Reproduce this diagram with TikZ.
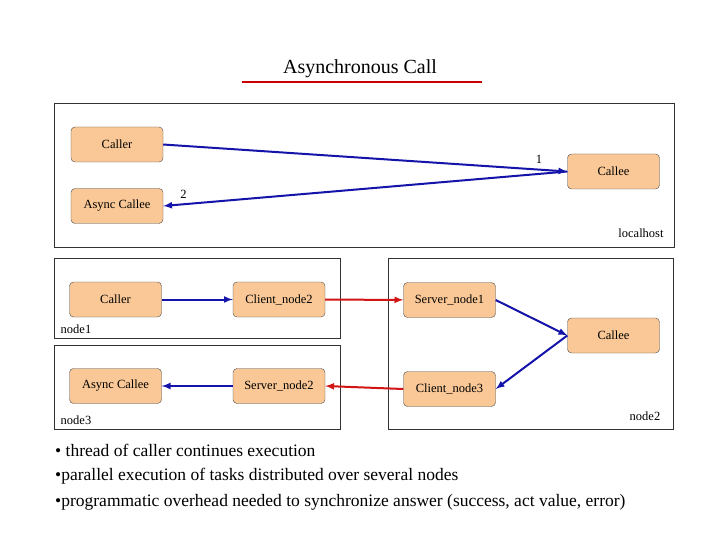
\documentclass[tikz,border=0pt]{standalone}
\usepackage{fontspec}
\setmainfont{Liberation Serif}
\begin{document}
\begin{tikzpicture}[x=1pt,y=-1pt,
  box/.style={draw=black!80, line width=0.6pt, fill=white},
  proc/.style={draw=black!70, rounded corners=4pt, fill={rgb,255:red,250;green,200;blue,150}, minimum width=92pt, minimum height=35pt, inner sep=0pt, font=\fontsize{12.5}{14}\selectfont},
  bl/.style={draw={rgb,255:red,20;green,20;blue,170}, line width=2pt, -latex},
  rd/.style={draw={rgb,255:red,210;green,20;blue,20}, line width=2pt, -latex},
  lbl/.style={font=\fontsize{12.5}{14}\selectfont, inner sep=1pt}]
\useasboundingbox (0,0) rectangle (720,540);
\node[font=\fontsize{20}{24}\selectfont] (title) at (360,69) {Asynchronous Call};
\draw[red!80!black, line width=1.2pt] (242,82) -- (482,82);
% localhost
\draw[box] (54.5,103) rectangle (674,247.5);
\node[proc] (c1) at (117,144.5) {Caller};
\node[proc] (a1) at (117,206) {Async Callee};
\node[proc] (e1) at (613.5,171.5) {Callee};
\node[lbl] at (641,233) {localhost};
\draw[bl] (c1.east) -- (e1.west) node[pos=0.93, above, lbl, black, yshift=4pt] {1};
\draw[bl] (e1.west) -- (a1.east) node[pos=0.95, above, lbl, black, yshift=4pt] {2};
% nodes
\draw[box] (54.5,258) rectangle (340,338);
\draw[box] (54.5,345) rectangle (340,429);
\draw[box] (388,258) rectangle (673.5,429);
\node[proc] (c2) at (115.5,299.5) {Caller};
\node[proc] (cn2) at (279,299.5) {Client\_node2};
\node[proc] (sn1) at (449.5,300) {Server\_node1};
\node[proc] (e2) at (613.5,335.5) {Callee};
\node[proc] (cn3) at (449.5,389) {Client\_node3};
\node[proc] (a2) at (115.5,386) {Async Callee};
\node[proc] (sn2) at (279,386) {Server\_node2};
\node[lbl] at (76,329) {node1};
\node[lbl] at (76,420) {node3};
\node[lbl] at (645,416) {node2};
\draw[bl] (c2) -- (cn2);
\draw[rd] (cn2) -- (sn1);
\draw[bl] (sn1.east) -- (e2.west);
\draw[bl] (e2.west) -- (cn3.east);
\draw[rd] (cn3.west) -- (sn2.east);
\draw[bl] (sn2) -- (a2);
% bullets
\begin{scope}[every node/.style={anchor=west, font=\fontsize{17.5}{19}\selectfont, inner sep=0pt}]
\node (b1) at (55,450) {• thread of caller continues execution};
\node (b2) at (55,476) {•parallel execution of tasks distributed over several nodes};
\node (b3) at (55,502) {•programmatic overhead needed to synchronize answer (success, act value, error)};
\end{scope}
\end{tikzpicture}
\end{document}
